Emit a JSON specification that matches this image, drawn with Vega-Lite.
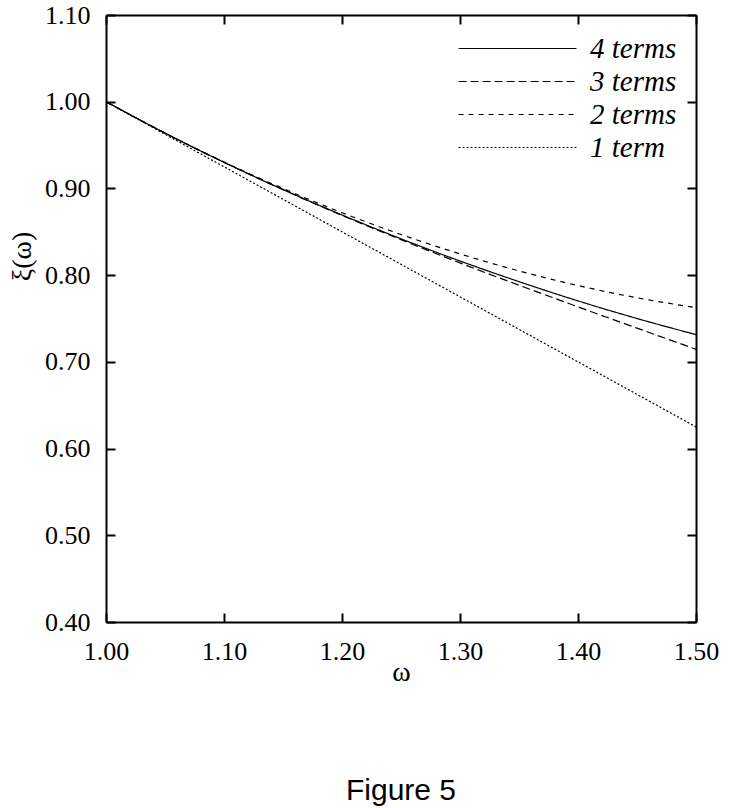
{
  "$schema": "https://vega.github.io/schema/vega-lite/v6.json",
  "width": 590,
  "height": 607,
  "autosize": {"type": "none"},
  "padding": {"left": 106, "top": 15, "right": 51, "bottom": 186},
  "background": "white",
  "config": {"view": {"stroke": null}, "font": "Liberation Serif"},
  "title": {"text": "Figure 5", "orient": "bottom", "anchor": "middle", "font": "Liberation Sans", "fontSize": 30, "fontWeight": "normal", "color": "black", "offset": 90},
  "data": {"values": [
    {"omega": 1.00, "xi": 1.0000, "series": "1 term"},
    {"omega": 1.05, "xi": 0.9625, "series": "1 term"},
    {"omega": 1.10, "xi": 0.9250, "series": "1 term"},
    {"omega": 1.15, "xi": 0.8875, "series": "1 term"},
    {"omega": 1.20, "xi": 0.8500, "series": "1 term"},
    {"omega": 1.25, "xi": 0.8125, "series": "1 term"},
    {"omega": 1.30, "xi": 0.7750, "series": "1 term"},
    {"omega": 1.35, "xi": 0.7375, "series": "1 term"},
    {"omega": 1.40, "xi": 0.7000, "series": "1 term"},
    {"omega": 1.45, "xi": 0.6625, "series": "1 term"},
    {"omega": 1.50, "xi": 0.6250, "series": "1 term"},
    {"omega": 1.00, "xi": 1.0000, "series": "2 terms"},
    {"omega": 1.05, "xi": 0.9639, "series": "2 terms"},
    {"omega": 1.10, "xi": 0.9305, "series": "2 terms"},
    {"omega": 1.15, "xi": 0.8999, "series": "2 terms"},
    {"omega": 1.20, "xi": 0.8720, "series": "2 terms"},
    {"omega": 1.25, "xi": 0.8469, "series": "2 terms"},
    {"omega": 1.30, "xi": 0.8245, "series": "2 terms"},
    {"omega": 1.35, "xi": 0.8049, "series": "2 terms"},
    {"omega": 1.40, "xi": 0.7880, "series": "2 terms"},
    {"omega": 1.45, "xi": 0.7739, "series": "2 terms"},
    {"omega": 1.50, "xi": 0.7625, "series": "2 terms"},
    {"omega": 1.00, "xi": 1.0000, "series": "3 terms"},
    {"omega": 1.05, "xi": 0.9638, "series": "3 terms"},
    {"omega": 1.10, "xi": 0.9301, "series": "3 terms"},
    {"omega": 1.15, "xi": 0.8986, "series": "3 terms"},
    {"omega": 1.20, "xi": 0.8689, "series": "3 terms"},
    {"omega": 1.25, "xi": 0.8409, "series": "3 terms"},
    {"omega": 1.30, "xi": 0.8141, "series": "3 terms"},
    {"omega": 1.35, "xi": 0.7884, "series": "3 terms"},
    {"omega": 1.40, "xi": 0.7634, "series": "3 terms"},
    {"omega": 1.45, "xi": 0.7389, "series": "3 terms"},
    {"omega": 1.50, "xi": 0.7145, "series": "3 terms"},
    {"omega": 1.00, "xi": 1.0000, "series": "4 terms"},
    {"omega": 1.05, "xi": 0.9638, "series": "4 terms"},
    {"omega": 1.10, "xi": 0.9301, "series": "4 terms"},
    {"omega": 1.15, "xi": 0.8987, "series": "4 terms"},
    {"omega": 1.20, "xi": 0.8694, "series": "4 terms"},
    {"omega": 1.25, "xi": 0.8419, "series": "4 terms"},
    {"omega": 1.30, "xi": 0.8163, "series": "4 terms"},
    {"omega": 1.35, "xi": 0.7925, "series": "4 terms"},
    {"omega": 1.40, "xi": 0.7703, "series": "4 terms"},
    {"omega": 1.45, "xi": 0.7500, "series": "4 terms"},
    {"omega": 1.50, "xi": 0.7314, "series": "4 terms"}
  ]},
  "layer": [
    {
      "mark": {"type": "line", "color": "black", "strokeWidth": 1.2, "interpolate": "monotone"},
      "encoding": {
        "x": {"field": "omega", "type": "quantitative", "scale": {"domain": [1, 1.5], "nice": false, "zero": false},
          "axis": {"orient": "bottom", "values": [1, 1.1, 1.2, 1.3, 1.4, 1.5], "format": ".2f", "grid": false,
            "tickSize": -9, "tickWidth": 2, "tickColor": "black", "domainColor": "black", "domainWidth": 2,
            "labelPadding": 25, "labelFont": "Liberation Serif", "labelFontSize": 26, "labelColor": "black",
            "labelFlush": false, "labelOverlap": false,
            "title": "ω", "titleFont": "Liberation Serif", "titleFontSize": 28, "titleFontWeight": "normal", "titleColor": "black", "titlePadding": -6}},
        "y": {"field": "xi", "type": "quantitative", "scale": {"domain": [0.4, 1.1], "nice": false, "zero": false},
          "axis": {"orient": "left", "values": [0.4, 0.5, 0.6, 0.7, 0.8, 0.9, 1.0, 1.1], "format": ".2f", "grid": false,
            "tickSize": -9, "tickWidth": 2, "tickColor": "black", "domainColor": "black", "domainWidth": 2,
            "labelPadding": 25, "labelFont": "Liberation Serif", "labelFontSize": 26, "labelColor": "black",
            "labelFlush": false, "labelOverlap": false,
            "title": "ξ(ω)", "titleFont": "Liberation Serif", "titleFontSize": 28, "titleFontWeight": "normal", "titleColor": "black",
            "titleX": -84, "titleY": 241, "titleAngle": 270, "titleAlign": "center", "titleBaseline": "middle"}},
        "strokeDash": {"field": "series", "type": "nominal",
          "scale": {"domain": ["4 terms", "3 terms", "2 terms", "1 term"], "range": [[1, 0], [8, 4], [5, 5], [2, 2]]},
          "legend": {"orient": "none", "legendX": 397, "legendY": 19, "title": null, "direction": "vertical",
            "symbolType": "M-10,0H10", "symbolSize": 139, "symbolStrokeWidth": 1.2, "symbolStrokeColor": "black", "symbolFillColor": "transparent",
            "labelFont": "Liberation Serif", "labelFontSize": 29, "labelFontStyle": "italic", "labelColor": "black", "labelOffset": 58, "rowPadding": 3}}
      }
    },
    {
      "mark": {"type": "point", "opacity": 0},
      "encoding": {
        "x": {"field": "omega", "type": "quantitative",
          "axis": {"orient": "top", "values": [1, 1.1, 1.2, 1.3, 1.4, 1.5], "labels": false, "title": null, "grid": false,
            "tickSize": -9, "tickWidth": 2, "tickColor": "black", "domainColor": "black", "domainWidth": 2}},
        "y": {"field": "xi", "type": "quantitative",
          "axis": {"orient": "right", "values": [0.4, 0.5, 0.6, 0.7, 0.8, 0.9, 1.0, 1.1], "labels": false, "title": null, "grid": false,
            "tickSize": -9, "tickWidth": 2, "tickColor": "black", "domainColor": "black", "domainWidth": 2}}
      }
    }
  ],
  "resolve": {"axis": {"x": "independent", "y": "independent"}}
}
